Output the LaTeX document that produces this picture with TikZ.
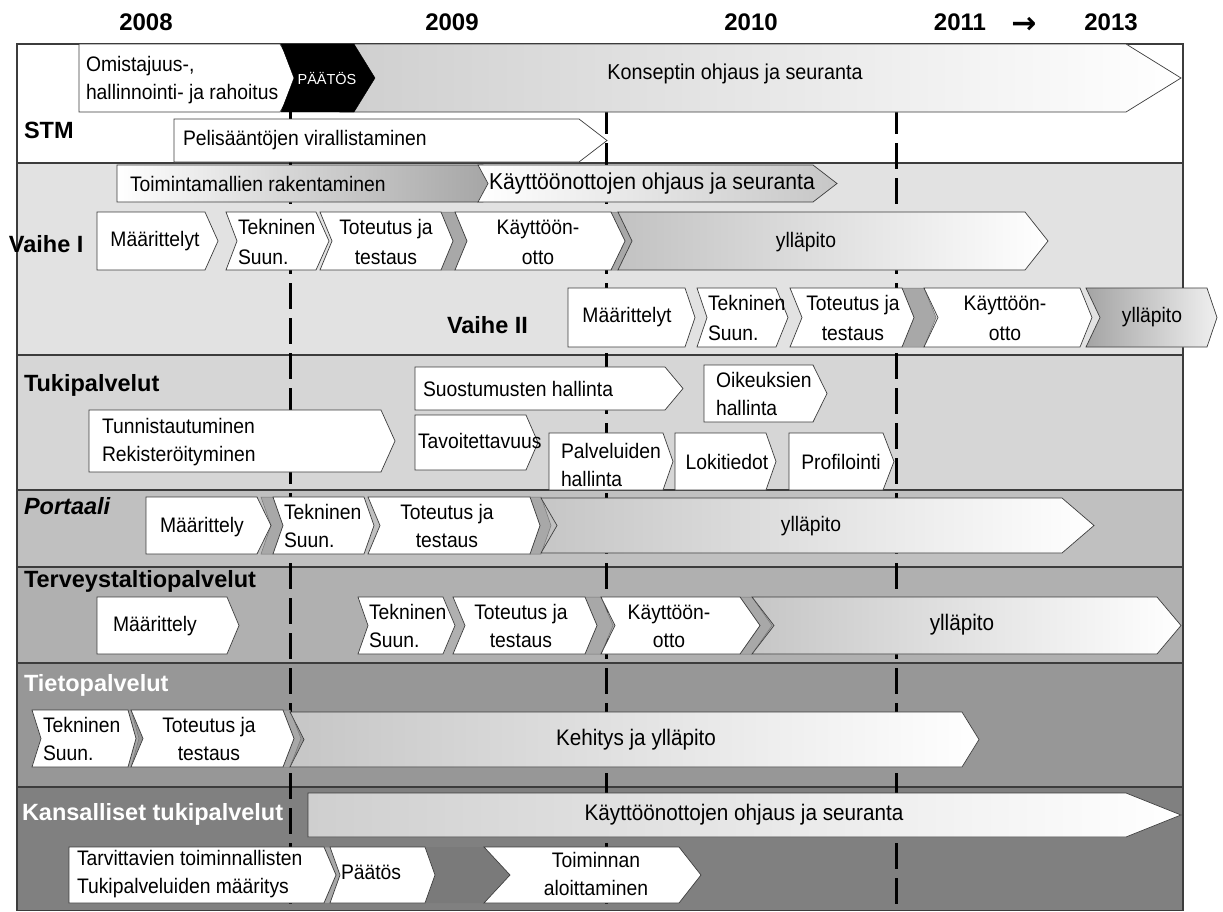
\documentclass[tikz,border=0pt]{standalone}
\usepackage{fontspec}
\setmainfont{Liberation Sans}
\newfontfamily\bodyfont[FakeStretch=0.92]{Liberation Sans}
\newfontfamily\arrowfont{DejaVu Sans}

% pentagon arrow: style, left x, tip x, top y, bottom y, head length
\newcommand{\pent}[6]{%
  \path[#1] (#2,#4) -- ({#3-#6},#4) -- (#3,{(#4+#5)/2}) -- ({#3-#6},#5) -- (#2,#5) -- cycle;}
% chevron: style, left x, tip x, top y, bottom y, head length, notch depth
\newcommand{\chev}[7]{%
  \path[#1] (#2,#4) -- ({#3-#6},#4) -- (#3,{(#4+#5)/2}) -- ({#3-#6},#5) -- (#2,#5) -- ({#2+#7},{(#4+#5)/2}) -- cycle;}
% grey strip between two chained arrows: style, tip x of left arrow, left x of right arrow, top y, bottom y, head
\newcommand{\gapfill}[6]{%
  \path[#1] ({#2-#6},#4) -- (#3,#4) -- ({#3+#6},{(#4+#5)/2}) -- (#3,#5) -- ({#2-#6},#5) -- (#2,{(#4+#5)/2}) -- cycle;}

\definecolor{rowB}{HTML}{E2E2E2}
\definecolor{rowC}{HTML}{D6D6D6}
\definecolor{rowD}{HTML}{C0C0C0}
\definecolor{rowE}{HTML}{B0B0B0}
\definecolor{rowF}{HTML}{979797}
\definecolor{rowG}{HTML}{808080}
\definecolor{edge}{HTML}{3C3C3C}
\definecolor{sliverc}{HTML}{A8A8A8}
\definecolor{shadeA}{HTML}{CFCFCF}
\definecolor{shadeB}{HTML}{C2C2C2}
\definecolor{shadeC}{HTML}{A4A4A4}
\definecolor{shadeD}{HTML}{C6C6C6}
\definecolor{darkgap}{HTML}{7A7A7A}

\begin{document}
\begin{tikzpicture}[x=1pt,y=-1pt,
  every node/.style={inner sep=0pt, outer sep=0pt},
  box/.style={draw=edge, line width=0.7pt, fill=white},
  sliver/.style={fill=sliverc, draw=edge!70, line width=0.5pt},
  frameline/.style={draw=edge, line width=1.2pt},
  milestone/.style={line width=3pt, black, dash pattern=on 26pt off 9pt},
  txt/.style={font=\bodyfont\fontsize{21}{30}\selectfont},
  bigtxt/.style={font=\bodyfont\fontsize{22.5}{30}\selectfont},
  tight/.style={font=\bodyfont\fontsize{21}{28}\selectfont},
  hdr/.style={font=\fontsize{23.5}{28}\selectfont\bfseries, anchor=west},
  yr/.style={font=\fontsize{24}{26}\selectfont\bfseries}]

\useasboundingbox (0,0) rectangle (1223,911);

% ---- row backgrounds ----
\fill[white] (17,44) rectangle (1183,163);
\fill[rowB] (17,163) rectangle (1183,355);
\fill[rowC] (17,355) rectangle (1183,490);
\fill[rowD] (17,490) rectangle (1183,567);
\fill[rowE] (17,567) rectangle (1183,663);
\fill[rowF] (17,663) rectangle (1183,787);
\fill[rowG] (17,787) rectangle (1183,911);

\foreach \yy in {163,355,490,567,663,787}
  \draw[frameline] (17,\yy) -- (1183,\yy);
\draw[frameline] (17,44) rectangle (1183,910.4);

% ---- year headings ----
\node[yr] (y2008) at (146,22) {2008};
\node[yr] (y2009) at (452,22) {2009};
\node[yr] (y2010) at (751,22) {2010};
\node[yr] (y2011) at (960,22) {2011};
\node[font=\arrowfont\bfseries\fontsize{30}{32}\selectfont, anchor=center] (yarrow) at (1024,25) {→};
\node[yr] (y2013) at (1111,22) {2013};

% ---- milestone lines ----
\coordinate (m1top) at (290,108);  \coordinate (m1bot) at (290,911);
\coordinate (m2top) at (606,108);  \coordinate (m2bot) at (606,911);
\coordinate (m3top) at (896,108);  \coordinate (m3bot) at (896,911);
\draw[milestone] (m1top) -- (m1bot);
\draw[milestone] (m2top) -- (m2bot);
\draw[milestone] (m3top) -- (m3bot);

% ---- STM ----
\node[hdr] (stm) at (24,130) {STM};
\pent{box}{79}{300}{44}{112}{20}
\node[tight, anchor=west, align=left] (omist) at (86,80) {Omistajuus-,\\hallinnointi- ja rahoitus};
\chev{box, left color=shadeA, right color=white}{340}{1181}{44}{112}{55}{15}
\node[font=\bodyfont\fontsize{21.5}{26}\selectfont] (konsept) at (735,74) {Konseptin ohjaus ja seuranta};
\chev{fill=black, draw=black}{281}{375}{44}{112}{21}{13}
\node[font=\fontsize{14.5}{16}\selectfont, text=white] (paatos1) at (327,78) {PÄÄTÖS};
\pent{box}{174}{607}{119}{162}{28}
\node[txt, anchor=west] (pelis) at (183,140) {Pelisääntöjen virallistaminen};

% ---- Vaihe I / Vaihe II ----
\pent{box, left color=white, middle color=white, right color=shadeC}{117}{495}{165}{202}{12}
\node[txt, anchor=west] (toimint) at (130,184) {Toimintamallien rakentaminen};
\chev{box, left color=white, right color=shadeD}{478}{837}{165}{202}{24}{10}
\node[font=\bodyfont\fontsize{23}{26}\selectfont, anchor=west] (kayt1) at (489,184) {Käyttöönottojen ohjaus ja seuranta};

\node[hdr] (vaihe1) at (9,244) {Vaihe I};
\gapfill{sliver}{453}{455}{212}{270}{12}
\gapfill{sliver}{625}{618}{212}{270}{14}
\pent{box}{97}{218}{212}{270}{13}
\node[txt] (v1maar) at (155,241) {Määrittelyt};
\chev{box}{226}{329}{212}{270}{13}{11}
\node[txt, anchor=west, align=left] (v1tekn) at (238,242) {Tekninen\\Suun.};
\chev{box}{320}{453}{212}{270}{12}{12}
\node[txt, align=center] (v1tot) at (386,242) {Toteutus ja\\testaus};
\chev{box}{455}{625}{212}{270}{14}{12}
\node[txt, align=center] (v1kayt) at (538,242) {Käyttöön-\\otto};
\chev{box, left color=shadeB, right color=white}{618}{1048}{212}{270}{23}{14}
\node[txt] (v1yll) at (806,242) {ylläpito};

\node[hdr] (vaihe2) at (447,325) {Vaihe II};
\gapfill{sliver}{914}{924}{288}{347}{12}
\pent{box}{568}{695}{288}{347}{10}
\node[txt] (v2maar) at (627,317) {Määrittelyt};
\chev{box}{697}{788}{288}{347}{12}{10}
\node[txt, anchor=west, align=left] (v2tekn) at (708,318) {Tekninen\\Suun.};
\chev{box}{790}{914}{288}{347}{12}{12}
\node[txt, align=center] (v2tot) at (853,318) {Toteutus ja\\testaus};
\chev{box}{924}{1092}{288}{347}{12}{14}
\node[txt, align=center] (v2kayt) at (1005,318) {Käyttöön-\\otto};
\chev{box, left color=shadeC, right color=white!94!black}{1086}{1217}{288}{347}{10}{14}
\node[txt] (v2yll) at (1152,317) {ylläpito};

% ---- Tukipalvelut ----
\node[hdr] (tuki) at (24,385) {Tukipalvelut};
\pent{box}{415}{683}{367}{410}{18}
\node[txt, anchor=west] (suost) at (423,389) {Suostumusten hallinta};
\pent{box}{704}{827}{365}{422}{14}
\node[tight, anchor=west, align=left] (oikeus) at (716,394) {Oikeuksien\\hallinta};
\pent{box}{89}{395}{410}{472}{14}
\node[tight, anchor=west, align=left] (tunnist) at (102,442) {Tunnistautuminen\\Rekisteröityminen};
\pent{box}{415}{538}{415}{470}{12}
\node[txt, anchor=west] (tavoit) at (418,441) {Tavoitettavuus};
\pent{box}{549}{673}{433}{490}{10}
\node[tight, anchor=west, align=left] (palvel) at (561,465) {Palveluiden\\hallinta};
\pent{box}{675}{776}{433}{490}{10}
\node[txt] (lokit) at (727,462) {Lokitiedot};
\pent{box}{789}{894}{433}{490}{11}
\node[txt] (profil) at (841,462) {Profilointi};

% ---- Portaali ----
\node[hdr, font=\fontsize{23.5}{28}\selectfont\bfseries\itshape] (portaali) at (24,506) {Portaali};
\gapfill{sliver}{271}{273}{497}{554}{10}
\gapfill{sliver}{540}{541}{497}{554}{10}
\pent{box}{146}{271}{497}{554}{14}
\node[txt] (pmaar) at (202,527) {Määrittely};
\chev{box}{273}{374}{497}{554}{10}{10}
\node[tight, anchor=west, align=left] (ptekn) at (284,526) {Tekninen\\Suun.};
\chev{box}{368}{540}{497}{554}{10}{12}
\node[tight, align=center] (ptot) at (447,526) {Toteutus ja\\testaus};
\chev{box, left color=shadeD, right color=white}{541}{1094}{498}{553}{32}{16}
\node[txt] (pyll) at (811,526) {ylläpito};

% ---- Terveystaltiopalvelut ----
\node[hdr] (terveys) at (24,581) {Terveystaltiopalvelut};
\gapfill{sliver}{597}{601}{597}{654}{12}
\gapfill{sliver}{760}{752}{597}{654}{20}
\pent{box}{97}{239}{597}{654}{12}
\node[txt] (tmaar) at (155,626) {Määrittely};
\chev{box}{358}{455}{597}{654}{12}{10}
\node[tight, anchor=west, align=left] (ttekn) at (369,626) {Tekninen\\Suun.};
\chev{box}{453}{597}{597}{654}{12}{12}
\node[tight, align=center] (ttot) at (521,626) {Toteutus ja\\testaus};
\chev{box}{601}{760}{597}{654}{20}{14}
\node[tight, align=center] (tkayt) at (669,626) {Käyttöön-\\otto};
\chev{box, left color=shadeD, right color=white}{752}{1181}{597}{654}{24}{22}
\node[bigtxt] (tyll) at (962,625) {ylläpito};

% ---- Tietopalvelut ----
\node[hdr, text=white] (tieto) at (24,685) {Tietopalvelut};
\gapfill{sliver}{136}{131}{710}{767}{8}
\gapfill{sliver}{294}{290}{710}{767}{11}
\chev{box}{32}{136}{710}{767}{8}{9}
\node[tight, anchor=west, align=left] (itekn) at (43,739) {Tekninen\\Suun.};
\chev{box}{131}{294}{710}{767}{11}{12}
\node[tight, align=center] (itot) at (209,739) {Toteutus ja\\testaus};
\chev{box, left color=shadeD, right color=white}{290}{979}{712}{767}{17}{14}
\node[bigtxt] (ikeh) at (636,740) {Kehitys ja ylläpito};

% ---- Kansalliset tukipalvelut ----
\node[hdr, text=white] (kans) at (22,814) {Kansalliset tukipalvelut};
\pent{box, left color=shadeA, right color=white}{308}{1181}{793}{837}{55}
\node[bigtxt] (kkayt) at (744,815) {Käyttöönottojen ohjaus ja seuranta};
\gapfill{sliver}{336}{330}{847}{903}{12}
\path[fill=darkgap] (425,847) -- (484,847) -- (510,875) -- (484,903) -- (425,903) -- (435,875) -- cycle;
\pent{box}{69}{336}{847}{903}{12}
\node[tight, anchor=west, align=left] (tarv) at (77,874) {Tarvittavien toiminnallisten\\Tukipalveluiden määritys};
\chev{box}{330}{435}{847}{903}{10}{10}
\node[txt, anchor=west] (paatos2) at (341,872) {Päätös};
\chev{box}{484}{701}{847}{903}{22}{26}
\node[tight, align=center] (toimin) at (596,874) {Toiminnan\\aloittaminen};

\end{tikzpicture}
\end{document}
